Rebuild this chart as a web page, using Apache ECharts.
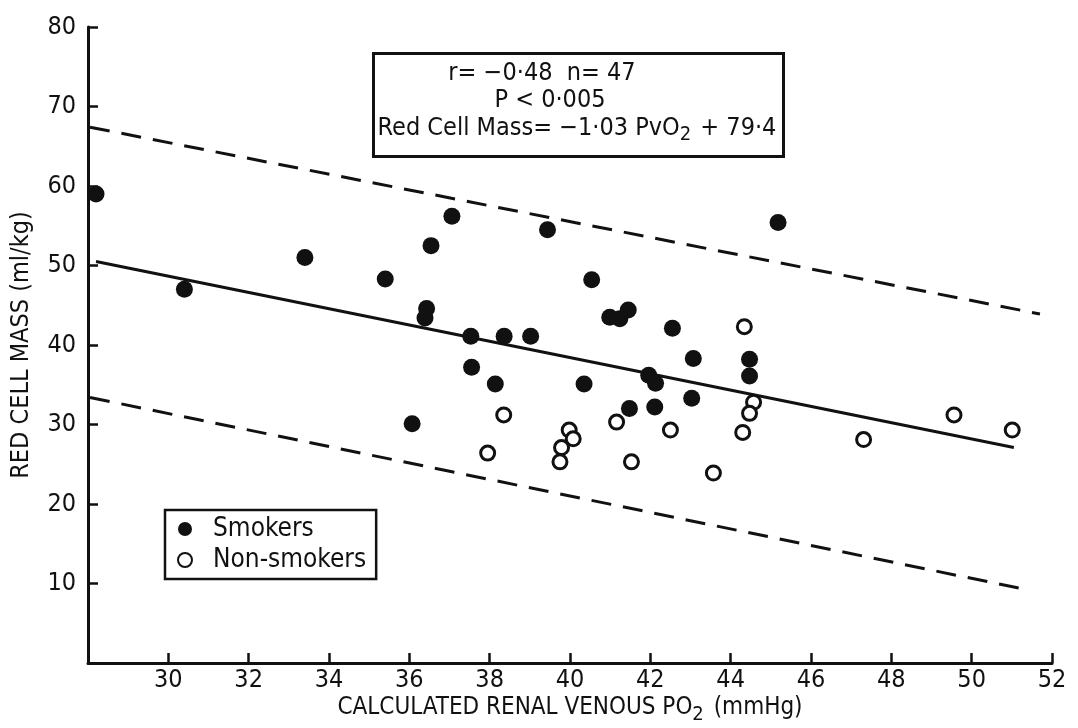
<!DOCTYPE html>
<html>
<head>
<meta charset="utf-8">
<script src="https://cdn.jsdelivr.net/npm/echarts@6/dist/echarts.min.js"></script>
<style>html,body{margin:0;padding:0;background:#fff}#c{width:1078px;height:728px}</style>
</head>
<body>
<div id="c"></div>
<script>
// Data
const smokers = [
  [28.2,59.0],[30.4,47.0],[33.4,51.0],[35.4,48.3],[36.43,44.6],[36.39,43.4],
  [36.54,52.5],[37.06,56.2],[39.44,54.5],[37.53,41.1],[38.36,41.1],[39.02,41.1],
  [37.55,37.2],[38.14,35.1],[36.07,30.1],[40.54,48.2],[40.99,43.5],[41.24,43.3],
  [41.45,44.4],[40.35,35.1],[41.48,32.0],[42.55,42.1],[41.96,36.2],[42.13,35.2],
  [42.11,32.2],[43.07,38.3],[43.03,33.3],[44.47,38.2],[44.47,36.1],[45.18,55.4]
];
const nonSmokers = [
  [38.35,31.2],[37.95,26.4],[39.98,29.3],[40.08,28.2],[39.79,27.1],[39.75,25.3],
  [41.16,30.3],[41.53,25.3],[42.50,29.3],[43.57,23.9],[44.34,42.3],[44.57,32.8],
  [44.47,31.4],[44.30,29.0],[47.31,28.1],[49.56,31.2],[51.01,29.3]
];
const fitLine = [[28.2,50.5],[51.05,27.1]];
const upperBand = [[28.05,67.4],[51.7,43.9]];
const lowerBand = [[28.05,33.4],[51.2,9.4]];
const xTicks = [28,30,32,34,36,38,40,42,44,46,48,50,52];
const yTicks = [0,10,20,30,40,50,60,70,80];
const statLine1 = 'r= \u22120\u00b748  n= 47';
const statLine2 = 'P < 0\u00b7005';
const statLine3 = '{a|Red Cell Mass= \u22121\u00b703 PvO}{s|2}{a| + 79\u00b74}';

const FONT = "'DejaVu Sans Condensed','Liberation Sans Narrow',sans-serif";
const chart = echarts.init(document.getElementById('c'));
chart.setOption({
  animation: false,
  backgroundColor: '#fff',
  grid: { left: 88, right: 26, top: 27, bottom: 65, outerBoundsMode: 'none', containLabel: false },
  xAxis: {
    type: 'value', min: xTicks[0], max: xTicks[xTicks.length-1], interval: 2,
    axisLine: { lineStyle: { color: '#111', width: 3 } },
    axisTick: { inside: true, length: 10, lineStyle: { color: '#111', width: 2.5 } },
    splitLine: { show: false },
    axisLabel: { showMinLabel: false, color: '#111', fontFamily: FONT, fontSize: 25, margin: 5 },
    name: '{a|CALCULATED RENAL VENOUS PO}{s|2}{a| (mmHg)}',
    nameLocation: 'middle', nameGap: 28, nameMoveOverlap: false,
    nameTextStyle: {
      rich: {
        a: { fontFamily: FONT, fontSize: 24, color: '#111' },
        s: { fontFamily: FONT, fontSize: 20, color: '#111', padding: [14, 3, 0, 0] }
      }
    }
  },
  yAxis: {
    type: 'value', min: yTicks[0], max: yTicks[yTicks.length-1], interval: 10,
    axisLine: { show: true, lineStyle: { color: '#111', width: 3 } },
    axisTick: { show: true, inside: true, length: 10, lineStyle: { color: '#111', width: 2.5 } },
    splitLine: { show: false },
    axisLabel: { showMinLabel: false, color: '#111', fontFamily: FONT, fontSize: 25, margin: 12 },
    name: 'RED CELL MASS (ml/kg)', nameLocation: 'middle', nameGap: 54,
    nameTextStyle: { fontFamily: FONT, fontSize: 25, color: '#111' }
  },
  legend: {
    left: 165, top: 510, orient: 'vertical',
    borderColor: '#111', borderWidth: 2.5, padding: [6, 10, 6, 12], itemGap: 5,
    itemWidth: 14, itemHeight: 14, icon: 'circle',
    textStyle: { fontFamily: FONT, fontSize: 26, color: '#111', padding: [0, 0, 0, 16] },
    data: ['Smokers', 'Non-smokers']
  },
  graphic: [
    { type: 'rect', left: 372, top: 52, shape: { width: 410, height: 103 },
      style: { fill: '#fff', stroke: '#111', lineWidth: 3 }, z: 10 },
    { type: 'text', x: 542, y: 73, z: 11,
      style: { text: statLine1, textAlign: 'center', textVerticalAlign: 'middle',
        fontFamily: FONT, fontSize: 25, fill: '#111' } },
    { type: 'text', x: 550, y: 100, z: 11,
      style: { text: statLine2, textAlign: 'center', textVerticalAlign: 'middle',
        fontFamily: FONT, fontSize: 25, fill: '#111' } },
    { type: 'text', x: 577, y: 128, z: 11,
      style: { text: statLine3, textAlign: 'center', textVerticalAlign: 'middle',
        fontFamily: FONT, fontSize: 25, fill: '#111',
        rich: {
          a: { fontFamily: FONT, fontSize: 25, fill: '#111' },
          s: { fontFamily: FONT, fontSize: 20, fill: '#111', padding: [14, 2, 0, 0] }
        } } }
  ],
  series: [
    { name: 'Fit', type: 'line', data: fitLine, symbol: 'none', silent: true,
      lineStyle: { color: '#111', width: 3 } },
    { name: 'Upper', type: 'line', data: upperBand, symbol: 'none', silent: true,
      lineStyle: { color: '#111', width: 3, type: [20, 12] } },
    { name: 'Lower', type: 'line', data: lowerBand, symbol: 'none', silent: true,
      lineStyle: { color: '#111', width: 3, type: [20, 12] } },
    { name: 'Smokers', type: 'scatter', data: smokers, symbolSize: 17,
      itemStyle: { color: '#111', opacity: 1 }, z: 5 },
    { name: 'Non-smokers', type: 'scatter', data: nonSmokers, symbolSize: 14,
      itemStyle: { color: '#fff', borderColor: '#111', borderWidth: 3, opacity: 1 }, z: 5 }
  ]
});
</script>
</body>
</html>
